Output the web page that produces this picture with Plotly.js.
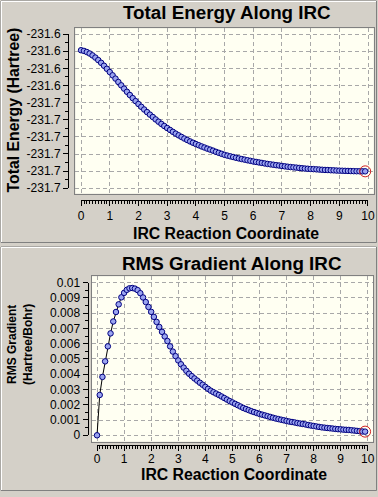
<!DOCTYPE html>
<html>
<head>
<meta charset="utf-8">
<script src="https://cdn.plot.ly/plotly-3.0.1.min.js"></script>
<style>html,body{margin:0;padding:0;background:#d4d0c8;}#chart{width:378px;height:497px;}</style>
</head>
<body>
<div id="chart"></div>
<script>
// ---- data ----
const IRC_COORD = [
  0.0,0.1,0.2,0.3,0.4,0.5,0.6,0.7,0.8,0.9,
  1.0,1.1,1.2,1.3,1.4,1.5,1.6,1.7,1.8,1.9,
  2.0,2.1,2.2,2.3,2.4,2.5,2.6,2.7,2.8,2.9,
  3.0,3.1,3.2,3.3,3.4,3.5,3.6,3.7,3.8,3.9,
  4.0,4.1,4.2,4.3,4.4,4.5,4.6,4.7,4.8,4.9,
  5.0,5.1,5.2,5.3,5.4,5.5,5.6,5.7,5.8,5.9,
  6.0,6.1,6.2,6.3,6.4,6.5,6.6,6.7,6.8,6.9,
  7.0,7.1,7.2,7.3,7.4,7.5,7.6,7.7,7.8,7.9,
  8.0,8.1,8.2,8.3,8.4,8.5,8.6,8.7,8.8,8.9,
  9.0,9.1,9.2,9.3,9.4,9.5,9.6,9.7,9.8,9.9
];
const TOTAL_ENERGY = [
  -231.63473,-231.63493,-231.63525,-231.63569,-231.63624,-231.63688,-231.63761,-231.63840,-231.63925,-231.64015,
  -231.64109,-231.64205,-231.64301,-231.64400,-231.64497,-231.64593,-231.64686,-231.64779,-231.64870,-231.64957,
  -231.65042,-231.65124,-231.65202,-231.65278,-231.65351,-231.65421,-231.65491,-231.65558,-231.65623,-231.65684,
  -231.65742,-231.65798,-231.65853,-231.65906,-231.65955,-231.66002,-231.66049,-231.66092,-231.66133,-231.66171,
  -231.66209,-231.66244,-231.66279,-231.66311,-231.66343,-231.66372,-231.66402,-231.66437,-231.66466,-231.66495,
  -231.66524,-231.66547,-231.66568,-231.66588,-231.66609,-231.66629,-231.66647,-231.66664,-231.66682,-231.66699,
  -231.66717,-231.66731,-231.66746,-231.66760,-231.66775,-231.66790,-231.66801,-231.66813,-231.66825,-231.66836,
  -231.66848,-231.66860,-231.66871,-231.66880,-231.66889,-231.66897,-231.66906,-231.66915,-231.66924,-231.66930,
  -231.66935,-231.66941,-231.66947,-231.66953,-231.66959,-231.66965,-231.66967,-231.66973,-231.66976,-231.66982,
  -231.66985,-231.66988,-231.66991,-231.66994,-231.66997,-231.67000,-231.67002,-231.67002,-231.67005,-231.67005
];
const RMS_GRADIENT = [
  0.00000,0.00264,0.00382,0.00484,0.00582,0.00667,0.00745,0.00807,0.00857,0.00903,
  0.00932,0.00952,0.00962,0.00964,0.00960,0.00950,0.00930,0.00902,0.00872,0.00840,
  0.00808,0.00775,0.00742,0.00709,0.00677,0.00647,0.00617,0.00582,0.00548,0.00518,
  0.00490,0.00465,0.00443,0.00422,0.00403,0.00387,0.00372,0.00358,0.00344,0.00331,
  0.00317,0.00304,0.00292,0.00282,0.00273,0.00264,0.00254,0.00244,0.00234,0.00224,
  0.00215,0.00206,0.00197,0.00188,0.00179,0.00172,0.00165,0.00158,0.00152,0.00146,
  0.00140,0.00135,0.00130,0.00125,0.00120,0.00115,0.00110,0.00106,0.00102,0.00098,
  0.00094,0.00090,0.00087,0.00084,0.00080,0.00077,0.00074,0.00071,0.00067,0.00064,
  0.00061,0.00058,0.00055,0.00052,0.00050,0.00048,0.00046,0.00044,0.00042,0.00040,
  0.00039,0.00037,0.00036,0.00035,0.00033,0.00031,0.00029,0.00027,0.00025,0.00024
];
const X_TICK_VALS = [0,1,2,3,4,5,6,7,8,9,10];
const ENERGY_TICK_VALS = [-231.63,-231.635,-231.64,-231.645,-231.65,-231.655,-231.66,-231.665,-231.67,-231.675];
const ENERGY_TICK_TEXT = ['-231.6','-231.6','-231.6','-231.6','-231.7','-231.7','-231.7','-231.7','-231.7','-231.7'];
const GRAD_TICK_VALS = [0,0.001,0.002,0.003,0.004,0.005,0.006,0.007,0.008,0.009,0.01];
const GRAD_TICK_TEXT = ['0','0.001','0.002','0.003','0.004','0.005','0.006','0.007','0.008','0.009','0.01'];
const TITLE_TOP = 'Total Energy Along IRC';
const TITLE_BOTTOM = 'RMS Gradient Along IRC';
const X_TITLE = 'IRC Reaction Coordinate';
const Y_TITLE_TOP = 'Total Energy (Hartree)';
const Y_TITLE_BOTTOM = 'RMS Gradient<br>(Hartree/Bohr)';

// ---- layout helpers (pixels -> paper fractions) ----
const W = 378, H = 497;
const fx = v => v / W;
const fy = v => 1 - v / H;
const last = IRC_COORD.length - 1;

const markerStyle = {size: 5.5, color: '#9aa4f0', line: {color: '#000080', width: 1}};
const boldFont = (s) => ({family: 'Liberation Sans, Arial, sans-serif', size: s, color: '#000', weight: 'bold'});
const tickFont = {family: 'Liberation Sans, Arial, sans-serif', size: 12, color: '#000'};

const gridAxis = {
  showticklabels: false, ticks: '', showgrid: true, gridcolor: '#a8a8a8', griddash: '4px,3px', gridwidth: 1,
  zeroline: false, showline: true, mirror: true, linecolor: '#808080', linewidth: 1, tickmode: 'array', fixedrange: true
};
const rulerAxis = {
  ticks: 'outside', ticklen: 5, tickwidth: 1, tickcolor: '#000', showline: true, linecolor: '#000', linewidth: 1,
  showgrid: false, zeroline: false, tickfont: tickFont, tickmode: 'array', fixedrange: true
};

const traces = [
  {x: IRC_COORD, y: TOTAL_ENERGY, xaxis: 'x', yaxis: 'y', type: 'scatter', mode: 'lines+markers',
   line: {color: '#000', width: 1}, marker: markerStyle, hoverinfo: 'skip'},
  {x: [IRC_COORD[last]], y: [TOTAL_ENERGY[last]], xaxis: 'x', yaxis: 'y', type: 'scatter', mode: 'markers',
   marker: {symbol: 'circle-open', size: 11, color: '#d02020', line: {width: 1, color: '#d02020'}}, hoverinfo: 'skip'},
  {x: IRC_COORD, y: RMS_GRADIENT, xaxis: 'x2', yaxis: 'y2', type: 'scatter', mode: 'lines+markers',
   line: {color: '#000', width: 1}, marker: markerStyle, hoverinfo: 'skip'},
  {x: [IRC_COORD[last]], y: [RMS_GRADIENT[last]], xaxis: 'x2', yaxis: 'y2', type: 'scatter', mode: 'markers',
   marker: {symbol: 'circle-open', size: 11, color: '#d02020', line: {width: 1, color: '#d02020'}}, hoverinfo: 'skip'},
  // empty traces that carry the ruler-style axes
  {x: [], y: [], xaxis: 'x3', yaxis: 'y3', type: 'scatter', mode: 'markers', hoverinfo: 'skip'},
  {x: [], y: [], xaxis: 'x4', yaxis: 'y4', type: 'scatter', mode: 'markers', hoverinfo: 'skip'}
];

const layout = {
  width: W, height: H, margin: {l: 0, r: 0, t: 0, b: 0}, autosize: false,
  paper_bgcolor: '#d4d0c8', plot_bgcolor: 'rgba(0,0,0,0)', showlegend: false,
  font: tickFont,
  // top panel data axes
  xaxis: Object.assign({}, gridAxis, {domain: [fx(75.3), fx(373.8)], range: [-0.2, 10.2], anchor: 'y', tickvals: X_TICK_VALS}),
  yaxis: Object.assign({}, gridAxis, {domain: [fy(193.7), fy(28.3)], range: [-231.676575, -231.628338], anchor: 'x', tickvals: ENERGY_TICK_VALS}),
  // top panel ruler axes
  xaxis3: Object.assign({}, rulerAxis, {domain: [fx(81.04), fx(368.04)], range: [-0.005, 10.005], anchor: 'free', position: fy(200),
    tickvals: X_TICK_VALS, minor: {tickmode: 'linear', tick0: 0, dtick: 0.1, ticklen: 3, tickcolor: '#000', ticks: 'outside', showgrid: false}}),
  yaxis3: Object.assign({}, rulerAxis, {domain: [fy(188.3), fy(34)], range: [-231.67505, -231.62995], anchor: 'free', position: fx(68),
    tickvals: ENERGY_TICK_VALS, ticktext: ENERGY_TICK_TEXT,
    minor: {tickmode: 'linear', tick0: -231.675, dtick: 0.0025, ticklen: 3, tickcolor: '#000', ticks: 'outside', showgrid: false}}),
  // bottom panel data axes
  xaxis2: Object.assign({}, gridAxis, {domain: [fx(91.6), fx(373.2)], range: [-0.2, 10.2], anchor: 'y2', tickvals: X_TICK_VALS}),
  yaxis2: Object.assign({}, gridAxis, {domain: [fy(441.7), fy(276.3)], range: [-0.000419, 0.010406], anchor: 'x2', tickvals: GRAD_TICK_VALS}),
  // bottom panel ruler axes
  xaxis4: Object.assign({}, rulerAxis, {domain: [fx(97.0), fx(367.8)], range: [-0.005, 10.005], anchor: 'free', position: fy(444.5),
    ticklabelstandoff: -2,
    tickvals: X_TICK_VALS, minor: {tickmode: 'linear', tick0: 0, dtick: 0.1, ticklen: 3, tickcolor: '#000', ticks: 'outside', showgrid: false}}),
  yaxis4: Object.assign({}, rulerAxis, {domain: [fy(435.3), fy(282.5)], range: [-0.000005, 0.010005], anchor: 'free', position: fx(87.5),
    tickvals: GRAD_TICK_VALS, ticktext: GRAD_TICK_TEXT,
    minor: {tickmode: 'linear', tick0: 0, dtick: 0.0005, ticklen: 3, tickcolor: '#000', ticks: 'outside', showgrid: false}}),
  shapes: [
    // plot area fills
    {type: 'rect', xref: 'x domain', yref: 'y domain', x0: 0, x1: 1, y0: 0, y1: 1, fillcolor: '#fffff2', line: {width: 0}, layer: 'below'},
    {type: 'rect', xref: 'x2 domain', yref: 'y2 domain', x0: 0, x1: 1, y0: 0, y1: 1, fillcolor: '#fffff2', line: {width: 0}, layer: 'below'},
    // panel frames (raised bevel)
    {type: 'rect', xref: 'paper', yref: 'paper', x0: fx(1), x1: fx(376.5), y0: fy(242.5), y1: fy(1), line: {color: '#808080', width: 1}, layer: 'below'},
    {type: 'line', xref: 'paper', yref: 'paper', x0: fx(1), x1: fx(376), y0: fy(1.5), y1: fy(1.5), line: {color: '#ffffff', width: 1}, layer: 'below'},
    {type: 'line', xref: 'paper', yref: 'paper', x0: fx(1.5), x1: fx(1.5), y0: fy(1), y1: fy(242), line: {color: '#ffffff', width: 1}, layer: 'below'},
    {type: 'rect', xref: 'paper', yref: 'paper', x0: fx(1), x1: fx(376.5), y0: fy(490.5), y1: fy(247), line: {color: '#808080', width: 1}, layer: 'below'},
    {type: 'line', xref: 'paper', yref: 'paper', x0: fx(1), x1: fx(376), y0: fy(247.5), y1: fy(247.5), line: {color: '#ffffff', width: 1}, layer: 'below'},
    {type: 'line', xref: 'paper', yref: 'paper', x0: fx(1.5), x1: fx(1.5), y0: fy(247), y1: fy(490), line: {color: '#ffffff', width: 1}, layer: 'below'}
  ],
  annotations: [
    {text: TITLE_TOP, xref: 'paper', yref: 'paper', x: fx(226.5), y: fy(12.8), xanchor: 'center', yanchor: 'middle', showarrow: false, borderpad: 0, font: boldFont(18.8)},
    {text: Y_TITLE_TOP, xref: 'paper', yref: 'paper', x: fx(13), y: fy(110.5), xanchor: 'center', yanchor: 'middle', textangle: -90, showarrow: false, borderpad: 0, font: boldFont(15.8)},
    {text: X_TITLE, xref: 'paper', yref: 'paper', x: fx(226), y: fy(233), xanchor: 'center', yanchor: 'middle', showarrow: false, borderpad: 0, font: boldFont(15.8)},
    {text: TITLE_BOTTOM, xref: 'paper', yref: 'paper', x: fx(232.3), y: fy(263), xanchor: 'center', yanchor: 'middle', showarrow: false, borderpad: 0, font: boldFont(18.8)},
    {text: Y_TITLE_BOTTOM, xref: 'paper', yref: 'paper', x: fx(20), y: fy(345), xanchor: 'center', yanchor: 'middle', textangle: -90, showarrow: false, borderpad: 0, font: boldFont(12)},
    {text: X_TITLE, xref: 'paper', yref: 'paper', x: fx(234), y: fy(474.5), xanchor: 'center', yanchor: 'middle', showarrow: false, borderpad: 0, font: boldFont(15.8)}
  ]
};

Plotly.newPlot('chart', traces, layout, {displayModeBar: false, staticPlot: true});
</script>
</body>
</html>
